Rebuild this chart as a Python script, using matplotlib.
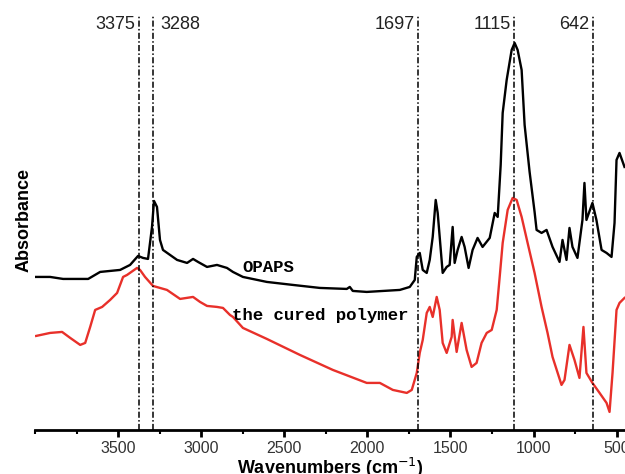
import matplotlib
matplotlib.use('agg')
import matplotlib.pyplot as plt
import matplotlib.ticker as tick

# OPAPS spectrum (wavenumber cm-1, absorbance a.u.)
opaps_wn = [3993, 3909, 3831, 3680, 3608, 3488, 3428, 3380, 3350, 3320,
            3296, 3284, 3266, 3248, 3230, 3145, 3085, 3049, 3019, 2965,
            2905, 2845, 2809, 2749, 2605, 2448, 2286, 2124, 2106, 2088,
            2004, 1805, 1745, 1715, 1703, 1685, 1667, 1643, 1625, 1607,
            1589, 1577, 1565, 1547, 1523, 1505, 1487, 1475, 1457, 1433,
            1415, 1391, 1367, 1337, 1307, 1264, 1234, 1216, 1198, 1186,
            1162, 1132, 1114, 1096, 1072, 1054, 1024, 994, 982, 952,
            922, 886, 844, 826, 802, 784, 766, 736, 706, 694,
            682, 646, 622, 591, 561, 531, 513, 501, 483, 453]
opaps_abs = [153, 153, 151, 151, 158, 160, 165, 174, 172, 171,
             203, 229, 223, 190, 180, 170, 167, 171, 168, 163,
             165, 162, 158, 153, 148, 145, 142, 141, 143, 139,
             138, 140, 143, 150, 173, 177, 160, 157, 170, 193,
             230, 217, 193, 157, 163, 165, 203, 167, 180, 193,
             183, 162, 180, 192, 183, 192, 217, 213, 265, 317,
             350, 380, 387, 380, 360, 305, 258, 218, 200, 197,
             200, 183, 168, 190, 170, 202, 183, 172, 210, 247,
             210, 227, 210, 180, 177, 173, 207, 270, 277, 263]

# cured polymer spectrum
cured_wn = [3993, 3909, 3837, 3788, 3728, 3698, 3668, 3638, 3596, 3548,
            3506, 3470, 3446, 3386, 3368, 3338, 3290, 3206, 3127, 3049,
            3007, 2965, 2905, 2869, 2827, 2809, 2749, 2605, 2406, 2208,
            2004, 1925, 1847, 1763, 1733, 1703, 1685, 1667, 1643, 1625,
            1607, 1583, 1565, 1547, 1523, 1493, 1487, 1463, 1433, 1403,
            1373, 1343, 1313, 1282, 1252, 1222, 1204, 1186, 1156, 1126,
            1102, 1072, 1036, 994, 952, 916, 886, 832, 814, 784,
            754, 724, 700, 682, 646, 603, 561, 543, 525, 501,
            483, 453]
cured_abs = [94, 97, 98, 92, 85, 87, 103, 120, 123, 130,
             137, 153, 155, 162, 160, 153, 144, 140, 131, 133,
             128, 124, 123, 122, 115, 113, 102, 91, 75, 60,
             47, 47, 40, 37, 40, 57, 77, 90, 117, 123,
             113, 133, 120, 87, 77, 93, 110, 78, 107, 80,
             63, 67, 87, 97, 100, 120, 153, 187, 220, 232,
             230, 213, 187, 157, 123, 97, 73, 45, 50, 85,
             70, 52, 103, 57, 47, 37, 27, 18, 57, 120,
             127, 132]

peaks = [3375, 3288, 1697, 1115, 642]
peak_align = ['right', 'left', 'right', 'right', 'right']

fig = plt.figure(figsize=(6.25, 4.74), dpi=100)
ax = fig.add_axes([0.056, 0.093, 0.944, 0.886])

ax.plot(opaps_wn, opaps_abs, color='black', lw=1.7)
ax.plot(cured_wn, cured_abs, color='#e8302a', lw=1.7)

for p, ha in zip(peaks, peak_align):
    ax.axvline(p, ymax=0.985, color='black', lw=1.1, linestyle='-.',
               dashes=(4, 1.5, 1, 1.5))
    off = -2.5 if ha == 'right' else 5
    ax.annotate(str(p), xy=(p, 405), xytext=(off, 0), textcoords='offset points',
                ha=ha, va='center', fontsize=13, family='Liberation Sans',
                color='#222222')

ax.text(2750, 162, 'OPAPS', family='Liberation Mono', weight='bold',
        fontsize=12.5, ha='left', va='center')
ax.text(2815, 114, 'the cured polymer', family='Liberation Mono', weight='bold',
        fontsize=12.5, ha='left', va='center')

ax.set_xlim(4000, 450)
ax.set_ylim(0, 420)
ax.set_yticks([])
for s in ['left', 'right', 'top']:
    ax.spines[s].set_visible(False)
ax.spines['bottom'].set_linewidth(2)
ax.xaxis.set_major_locator(tick.MultipleLocator(500))
ax.xaxis.set_minor_locator(tick.MultipleLocator(250))
ax.tick_params(axis='x', which='major', direction='out', length=5, width=2,
               labelsize=11.5, labelcolor='#333333', pad=3)
ax.tick_params(axis='x', which='minor', direction='out', length=3, width=1.5)
ax.set_xticks([3500, 3000, 2500, 2000, 1500, 1000, 500])
for lbl in ax.get_xticklabels():
    lbl.set_family('Liberation Sans')

ax.set_xlabel('Wavenumbers (cm$^{-1}$)', fontsize=13, weight='bold',
              family='Liberation Sans', labelpad=0)
ax.set_ylabel('Absorbance', fontsize=13, weight='bold',
              family='Liberation Sans', labelpad=2)

fig.savefig('out.png', dpi=100)
